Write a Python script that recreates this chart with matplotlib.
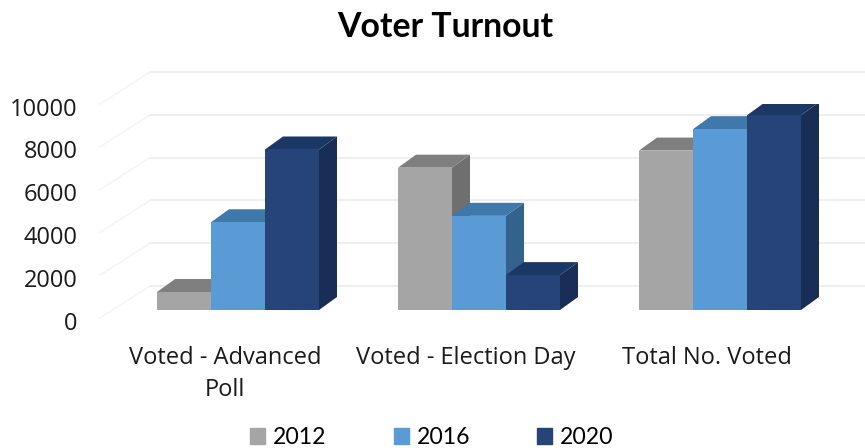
import matplotlib
matplotlib.use('Agg')
import matplotlib.pyplot as plt
import matplotlib.patches as patches
from matplotlib.transforms import ScaledTranslation

categories = ['Voted - Advanced\nPoll', 'Voted - Election Day', 'Total No. Voted']
years = ['2012', '2016', '2020']
votes_2012 = [840, 6650, 7450]
votes_2016 = [4100, 4400, 8450]
votes_2020 = [7500, 1630, 9100]
y_ticks = [0, 2000, 4000, 6000, 8000, 10000]

front_colors = ['#a5a5a5', '#5b9bd5', '#264478']
top_colors = ['#7f7f7f', '#3f78aa', '#1b3766']
side_colors = ['#6f6f6f', '#33628c', '#182e57']

W, H = 865, 448
fig = plt.figure(figsize=(W / 100, H / 100), dpi=100)
# axes box is the front plane of the fake 3d chart
ax = fig.add_axes([100 / W, 1 - 318 / H, (W - 100) / W, 214 / H])
ax.set_xlim(-125 / 241, 640 / 241)
ax.set_ylim(0, 10000)
for s in ax.spines.values():
    s.set_visible(False)

px_x = 1 / 241
px_y = 10000 / 214
bar_w = 54 * px_x
wall_dx, wall_dy = 50 * px_x, 32 * px_y   # back wall offset
bar_dx, bar_dy = 13 * px_x, 8 * px_y      # where bars stand on the floor
depth_x, depth_y = 18 * px_x, 13 * px_y   # bar depth

# Gridlines on back wall and side wall
x_left, x_right = ax.get_xlim()
for v in y_ticks:
    ax.plot([x_left + wall_dx, x_right], [v + wall_dy] * 2, color='#ebebeb', lw=1.1, clip_on=False, zorder=1)
    ax.plot([x_left, x_left + wall_dx], [v, v + wall_dy], color='#f4f4f4', lw=1.1, clip_on=False, zorder=1)

# Bars, left to right so nearer sides get covered properly
series = [votes_2012, votes_2016, votes_2020]
z = 2
for g in range(len(categories)):
    for i, vals in enumerate(series):
        val = vals[g]
        x0 = g + bar_dx + (i - 1.5) * bar_w
        x1 = x0 + bar_w
        y0 = bar_dy
        y1 = bar_dy + val
        side = [(x1, y0), (x1 + depth_x, y0 + depth_y), (x1 + depth_x, y1 + depth_y), (x1, y1)]
        top = [(x0, y1), (x0 + depth_x, y1 + depth_y), (x1 + depth_x, y1 + depth_y), (x1, y1)]
        ax.add_patch(patches.Polygon(side, closed=True, facecolor=side_colors[i], edgecolor='none', zorder=z))
        ax.add_patch(patches.Polygon(top, closed=True, facecolor=top_colors[i], edgecolor='none', zorder=z))
        ax.bar(x0, val, width=bar_w, bottom=y0, align='edge', color=front_colors[i], zorder=z + 1)
        z += 2

ax.set_yticks(y_ticks)
ax.set_xticks(range(len(categories)))
ax.set_xticklabels(categories, fontfamily='Open Sans', fontsize=17, color='#1a1a1a', linespacing=1.4)
ax.set_yticklabels([str(v) for v in y_ticks], fontfamily='Open Sans', fontsize=17, color='#1a1a1a')
ax.tick_params(axis='x', length=0, pad=20.5)
ax.tick_params(axis='y', length=0, pad=16)
for lab in ax.get_yticklabels():
    lab.set_transform(lab.get_transform() + ScaledTranslation(0, -2.5 / 100, fig.dpi_scale_trans))

fig.text(445 / W, 1 - 27 / H, 'Voter Turnout', fontfamily='Lato', fontweight='bold', fontsize=24.3,
         color='black', ha='center', va='center')

handles = [patches.Patch(color=c, label=y) for c, y in zip(front_colors, years)]
fig.legend(handles=handles, loc='center', bbox_to_anchor=(432 / W, 1 - 437.5 / H), ncol=3, frameon=False,
           prop={'family': 'Lato', 'size': 16.6}, handlelength=0.65, handleheight=0.65,
           handletextpad=0.35, columnspacing=2.9, borderpad=0, borderaxespad=0)

fig.savefig('out.png', dpi=100)
